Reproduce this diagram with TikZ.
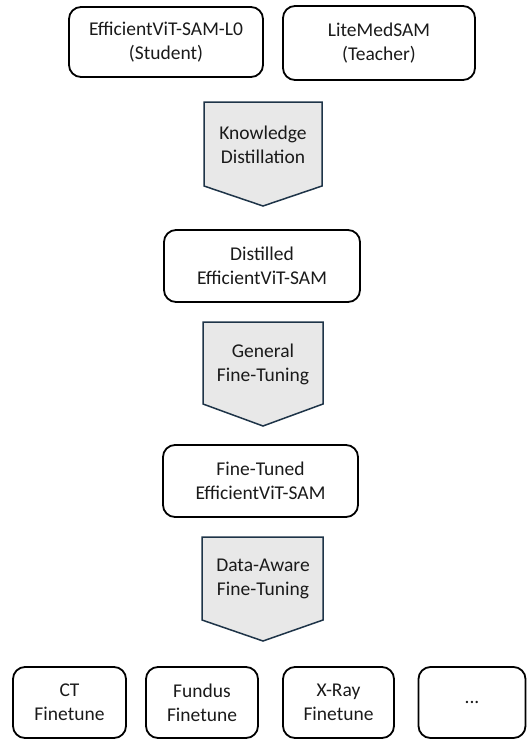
\documentclass[tikz,border=0pt]{standalone}
\usepackage{fontspec}
\setmainfont{Carlito}
\definecolor{chevfill}{HTML}{E8E8E8}
\definecolor{chevline}{HTML}{1E3448}
\definecolor{txt}{HTML}{1A1A1A}
\begin{document}
\begin{tikzpicture}[x=1bp,y=-1bp,
  box/.style={draw=black, line width=1.8bp, rounded corners=12bp, minimum height=71bp,
    align=center, font=\fontsize{19.5bp}{24bp}\selectfont, text=txt, inner sep=0pt},
  chev/.style={draw=chevline, fill=chevfill, line width=1.5bp, line join=miter},
  lab/.style={align=center, font=\fontsize{19.5bp}{24bp}\selectfont, text=txt, inner sep=0pt}]
\useasboundingbox (0,0) rectangle (527,740);

% top boxes
\node[box, minimum width=194bp, minimum height=70bp] (student) at (166,42) {EfficientViT-SAM-L0\\(Student)};
\node[box, minimum width=192bp, minimum height=74bp] (teacher) at (379,43) {LiteMedSAM\\(Teacher)};

% chevron 1
\draw[chev] (204,102) -- (322,102) -- (322,186) -- (263,206) -- (204,186) -- cycle;
\node[lab] (kd) at (263,145) {Knowledge\\Distillation};

% distilled
\node[box, minimum width=196bp, minimum height=72bp] (distilled) at (262,266) {Distilled\\EfficientViT-SAM};

% chevron 2
\draw[chev] (203,322) -- (323,322) -- (323,404) -- (263,426) -- (203,404) -- cycle;
\node[lab] (gft) at (263,364) {General\\Fine-Tuning};

% fine-tuned
\node[box, minimum width=195bp, minimum height=72bp] (finetuned) at (260.5,481) {Fine-Tuned\\EfficientViT-SAM};

% chevron 3
\draw[chev] (202,537) -- (323,537) -- (323,620) -- (263,641) -- (202,620) -- cycle;
\node[lab] (daft) at (263,579) {Data-Aware\\Fine-Tuning};

% bottom boxes
\node[box, minimum width=113bp] (ct) at (69.5,702.5) {CT\\Finetune};
\node[box, minimum width=112bp] (fundus) at (202,702.5) {Fundus\\Finetune};
\node[box, minimum width=111bp] (xray) at (338.5,702.5) {X-Ray\\Finetune};
\node[box, minimum width=107bp] (more) at (472,702.5) {...};
\end{tikzpicture}
\end{document}
